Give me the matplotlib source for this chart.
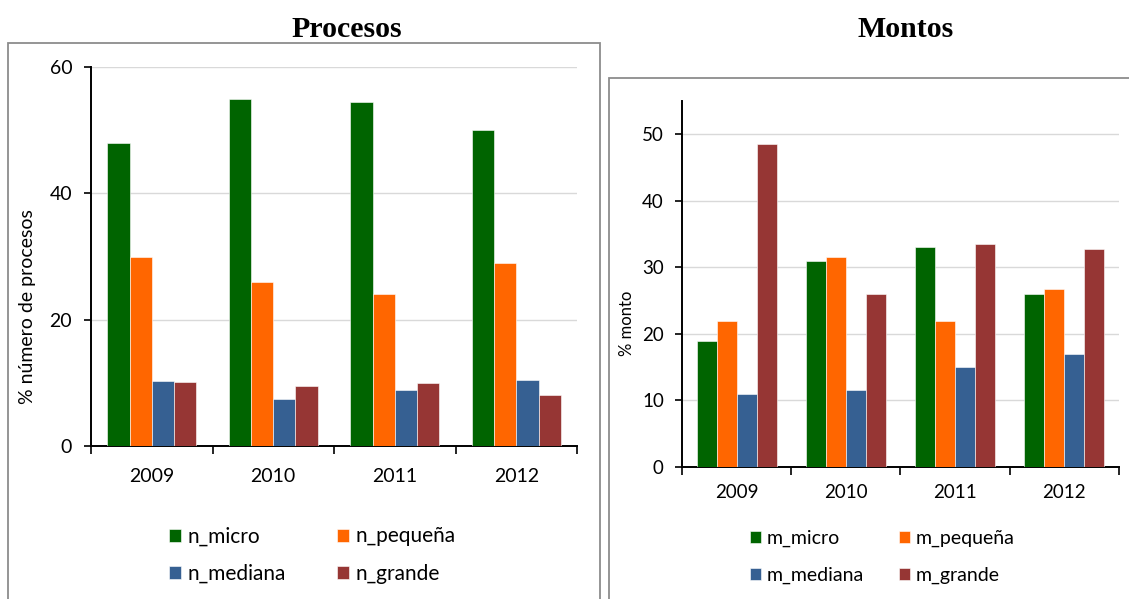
import matplotlib.pyplot as plt
import numpy as np
from matplotlib.patches import Rectangle

years = ["2009", "2010", "2011", "2012"]

# share of the number of procurement processes, by firm size
n_micro = [48.0, 55.0, 54.5, 50.0]
n_pequena = [30.0, 26.0, 24.0, 29.0]
n_mediana = [10.3, 7.5, 8.8, 10.5]
n_grande = [10.1, 9.5, 10.0, 8.0]

# share of the amount awarded, by firm size
m_micro = [19.0, 31.0, 33.0, 26.0]
m_pequena = [22.0, 31.5, 22.0, 26.7]
m_mediana = [11.0, 11.5, 15.0, 17.0]
m_grande = [48.5, 26.0, 33.5, 32.8]

colors = ["#006400", "#ff6600", "#366092", "#963634"]

plt.rcParams["font.family"] = ["Lato", "DejaVu Sans"]

fig = plt.figure(figsize=(11.29, 5.99), dpi=100)


def draw_panel(ax, series, labels, ymax, yticks, ylabel, fs_tick, fs_label,
               xpad, ypad):
    x = np.arange(len(years))
    width = 0.183
    for i, (vals, lab) in enumerate(zip(series, labels)):
        ax.bar(x + (i - 1.5) * width, vals, width, color=colors[i],
               edgecolor="white", linewidth=0.4, label=lab, zorder=3)
    ax.set_xlim(-0.5, len(years) - 0.5)
    ax.set_ylim(0, ymax)
    ax.set_yticks(yticks)
    ax.yaxis.grid(True, color="#d9d9d9", linewidth=1.0, zorder=0)
    ax.set_xticks(x)
    ax.set_xticklabels(years, fontsize=fs_tick)
    ax.set_xticks(np.arange(-0.5, len(years)), minor=True)
    ax.tick_params(axis="x", which="major", length=0, pad=xpad)
    ax.tick_params(axis="x", which="minor", length=6, width=1.2, color="black")
    ax.tick_params(axis="y", length=5, width=1.2, labelsize=fs_tick, pad=ypad)
    for s in ["top", "right"]:
        ax.spines[s].set_visible(False)
    for s in ["left", "bottom"]:
        ax.spines[s].set_linewidth(1.4)
        ax.spines[s].set_color("black")
    ax.set_ylabel(ylabel, fontsize=fs_label)


ax1 = fig.add_axes([0.0806, 0.2554, 0.4305, 0.6327])
draw_panel(ax1, [n_micro, n_pequena, n_mediana, n_grande],
           ["n_micro", "n_pequeña", "n_mediana", "n_grande"],
           60, [0, 20, 40, 60], "% número de procesos", 14, 14, 15.5, 8.5)
ax1.yaxis.set_label_coords(-0.113, 0.367)

ax2 = fig.add_axes([0.604, 0.2204, 0.387, 0.611])
draw_panel(ax2, [m_micro, m_pequena, m_mediana, m_grande],
           ["m_micro", "m_pequeña", "m_mediana", "m_grande"],
           55, [0, 10, 20, 30, 40, 50], "% monto", 13.5, 12, 12, 8)
ax2.yaxis.set_label_coords(-0.1075, 0.393)

# legends: two columns, row-wise order
for ax, anchor, fs, colsp, lsp in [(ax1, (0.1423, 0.135), 15, 2.45, 0.84),
                                   (ax2, (0.657, 0.128), 14, 1.8, 1.0)]:
    h, l = ax.get_legend_handles_labels()
    order = [0, 2, 1, 3]
    fig.legend([h[i] for i in order], [l[i] for i in order], ncol=2,
               loc="upper left", bbox_to_anchor=anchor, frameon=False,
               fontsize=fs, handlelength=0.58, handleheight=0.58,
               handletextpad=0.3, columnspacing=colsp, labelspacing=lsp,
               borderaxespad=0)

# chart frames
fig.add_artist(Rectangle((0.0071, -0.01), 0.5244, 0.938, transform=fig.transFigure,
                         fill=False, edgecolor="#8c8c8c", linewidth=1.3))
fig.add_artist(Rectangle((0.5394, -0.01), 0.47, 0.8798, transform=fig.transFigure,
                         fill=False, edgecolor="#8c8c8c", linewidth=1.3))

fig.text(0.307, 0.950, "Procesos", ha="center", va="center", fontsize=21.5,
         fontweight="bold", family="Liberation Serif")
fig.text(0.8025, 0.950, "Montos", ha="center", va="center", fontsize=21.5,
         fontweight="bold", family="Liberation Serif")

fig.savefig("out.png", dpi=100)
